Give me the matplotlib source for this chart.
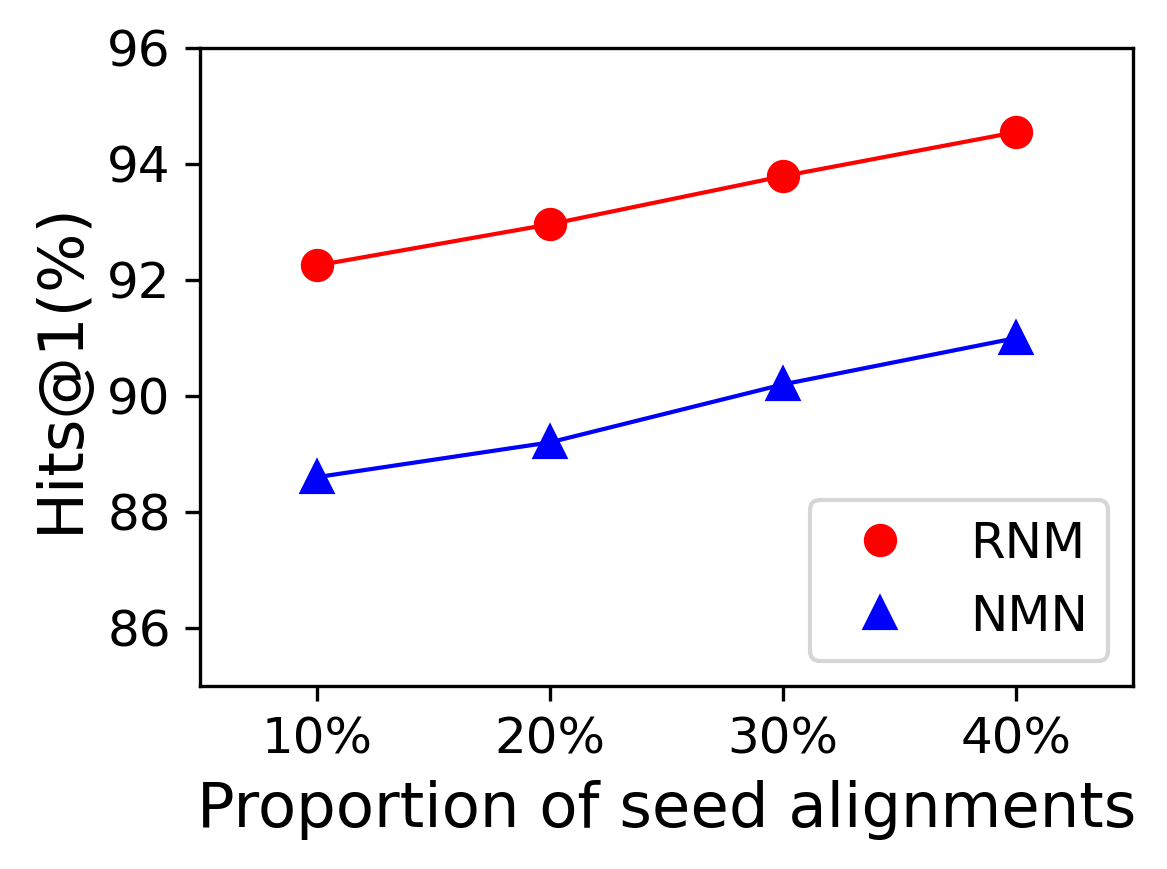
import matplotlib
matplotlib.use('Agg')
import matplotlib.pyplot as plt

# data
proportions = ['10%', '20%', '30%', '40%']
rnm = [92.25, 92.96, 93.79, 94.55]
nmn = [88.6, 89.2, 90.2, 91.0]

x = list(range(1, len(proportions) + 1))

fig = plt.figure(figsize=(1167 / 300, 869 / 300), dpi=300)
ax = fig.add_axes([0.1714, 0.2106, 0.7995, 0.7342])

# lines without legend entry, markers carry the labels
ax.plot(x, rnm, 'r-', linewidth=1.0)
ax.plot(x, nmn, 'b-', linewidth=1.0)
ax.plot(x, rnm, 'ro', markersize=7, label='RNM')
ax.plot(x, nmn, 'b^', markersize=7, label='NMN')

ax.set_xlim(0.5, 4.5)
ax.set_ylim(85, 96)
ax.set_xticks(x)
ax.set_xticklabels(proportions)
ax.set_yticks([86, 88, 90, 92, 94, 96])
ax.tick_params(labelsize=12)

ax.set_xlabel('Proportion of seed alignments', fontsize=15)
ax.set_ylabel('Hits@1(%)', fontsize=15)
ax.legend(loc='lower right', fontsize=12)

fig.savefig('out.png', dpi=300)
